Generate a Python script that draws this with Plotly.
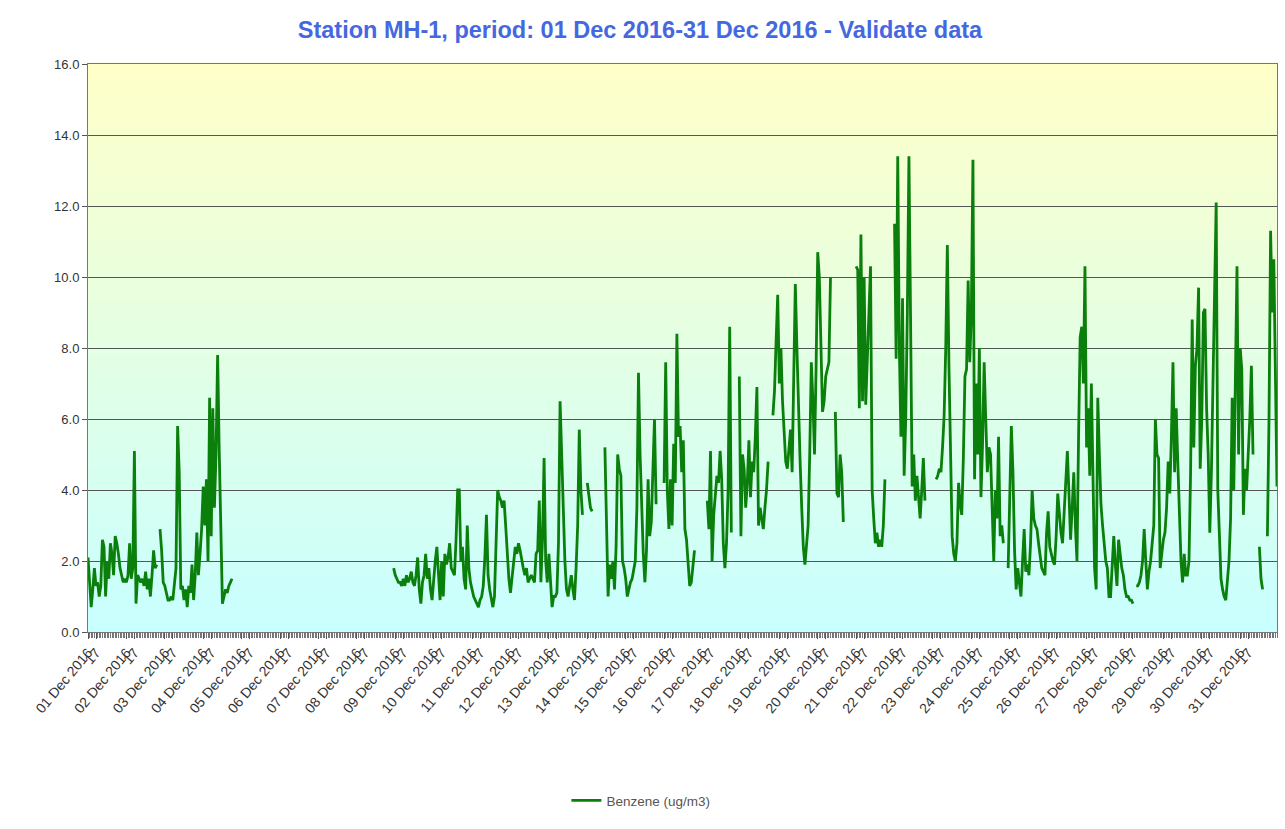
import plotly.graph_objects as go
import pandas as pd

# Hourly Benzene (ug/m3), one list per day (00:00 .. 23:00)
dec01 = [2.1,1.4,0.7,1.2,1.8,1.3,1.4,1.0,1.3,2.6,2.4,1.0,2.0,1.5,2.5,2.2,1.6,2.7,2.5,2.2,1.8,1.6,1.4,1.5]
dec02 = [1.4,1.6,2.5,1.5,1.8,5.1,0.8,1.6,1.5,1.4,1.5,1.3,1.7,1.2,1.5,1.0,1.6,2.3,1.8,1.9,None,2.9,2.3,1.4]
dec03 = [1.3,1.1,0.9,0.9,1.0,0.9,1.3,1.8,5.8,4.5,1.2,1.3,0.9,1.2,0.7,1.3,1.1,1.9,0.9,1.6,2.8,1.6,2.2,2.9]
dec04 = [4.1,3.0,4.3,2.0,6.6,2.7,6.3,3.5,5.0,7.8,5.1,2.5,0.8,1.0,1.2,1.1,1.3,1.4,1.5,None,None,None,None,None]
dec05 = [None]*24
dec06 = [None]*24
dec07 = [None]*24
dec08 = [None]*23 + [1.8]
dec09 = [1.6,1.5,1.4,1.4,1.3,1.5,1.3,1.6,1.4,1.5,1.7,1.4,1.3,1.6,2.1,1.2,0.8,1.4,1.6,2.2,1.5,1.8,1.2,0.9]
dec10 = [1.5,2.0,2.4,1.6,0.9,2.0,1.0,2.2,1.9,2.1,2.5,1.8,1.7,1.6,2.6,4.0,4.0,2.0,2.4,1.5,1.2,3.0,1.8,1.4]
dec11 = [1.2,1.0,0.9,0.8,0.7,0.9,1.0,1.3,2.1,3.3,1.6,1.2,0.9,0.7,1.0,2.5,4.0,3.8,3.7,3.5,3.7,3.0,2.2,1.5]
dec12 = [1.1,1.6,1.9,2.4,2.2,2.5,2.3,2.0,1.8,1.6,1.8,1.4,1.5,1.6,1.5,1.4,2.2,2.3,3.7,1.4,2.6,4.9,2.0,1.4]
dec13 = [2.2,1.5,0.7,1.0,1.0,1.1,2.5,6.5,5.0,3.2,2.0,1.2,1.0,1.3,1.6,1.2,0.9,1.8,3.0,5.7,4.0,3.3,None,None]
dec14 = [4.2,3.8,3.5,3.4,None,None,None,None,None,None,None,5.2,2.6,1.0,1.9,1.5,2.0,1.2,2.4,5.0,4.6,4.4,2.0,1.8]
dec15 = [1.5,1.0,1.2,1.4,1.5,1.8,2.0,3.5,7.3,5.0,3.5,2.2,1.4,2.3,4.3,2.7,3.1,4.5,6.0,3.6,None,None,None,None]
dec16 = [4.2,7.6,4.0,2.9,4.3,3.0,5.3,4.2,8.4,5.5,5.8,4.5,5.4,2.9,2.6,1.8,1.3,1.4,1.8,2.3,None,None,None,None]
dec17 = [None,None,None,3.7,2.9,5.1,2.0,3.3,3.8,4.4,4.2,5.1,4.3,2.5,1.8,2.5,4.0,8.6,2.8,None,None,None,None,7.2]
dec18 = [2.7,5.0,4.6,3.5,4.2,5.4,3.8,4.8,4.5,5.5,6.9,3.0,3.5,3.2,2.9,3.5,4.0,4.8,None,None,6.1,6.8,8.2,9.5]
dec19 = [7.0,8.0,6.5,5.5,4.8,4.6,5.2,5.7,4.5,7.0,9.8,8.0,6.2,4.8,3.5,2.4,1.9,2.5,3.0,5.0,7.6,6.5,5.0,7.5]
dec20 = [10.7,10.0,8.0,6.2,6.5,7.2,7.4,7.6,10.0,None,None,6.2,3.9,3.8,5.0,4.5,3.1,None,None,None,None,None,None,None]
dec21 = [10.3,10.2,6.3,11.2,6.5,10.0,6.4,7.5,9.0,10.3,4.0,3.2,2.5,2.8,2.4,2.6,2.4,3.0,4.3,None,None,None,None,None]
dec22 = [11.5,7.7,13.4,8.0,5.5,9.4,4.4,6.0,9.0,13.4,8.9,4.1,5.0,3.7,4.4,3.8,3.2,4.0,4.9,3.7,None,None,None,None]
dec23 = [None,None,4.3,4.4,4.6,4.5,5.2,6.1,8.0,10.9,7.5,5.0,2.7,2.2,2.0,2.5,4.2,3.6,3.3,4.9,7.2,7.4,9.9,7.6]
dec24 = [9.0,13.3,4.3,7.0,5.0,8.0,3.8,5.3,7.6,6.0,4.5,5.2,5.0,3.5,2.0,4.0,3.2,5.5,2.7,3.0,2.5,None,None,1.8]
dec25 = [3.5,5.8,4.5,2.3,1.2,1.8,1.4,1.0,2.0,2.9,1.7,1.9,1.6,2.5,4.0,3.2,3.0,2.9,2.5,2.2,1.8,1.7,1.6,2.8]
dec26 = [3.4,2.4,2.2,2.0,1.9,2.7,3.9,3.2,2.8,2.5,3.5,4.3,5.1,3.9,2.6,3.5,4.5,3.0,2.0,5.5,8.3,8.6,7.0,10.3]
dec27 = [5.2,6.3,4.4,7.0,3.8,1.8,1.2,6.6,5.0,3.6,3.0,2.5,2.0,1.8,1.0,1.0,1.8,2.7,1.9,1.3,2.6,2.1,1.8,1.6]
dec28 = [1.2,1.0,1.0,0.9,0.9,0.8,None,1.3,1.3,1.4,1.6,2.0,2.9,2.0,1.2,1.7,2.0,2.5,3.0,6.0,5.0,4.9,1.8,2.2]
dec29 = [2.6,2.8,3.5,4.8,3.9,5.5,7.6,4.5,6.3,4.8,3.0,2.0,1.4,2.2,1.6,1.6,2.0,4.5,8.8,5.2,7.5,8.0,9.7,4.6]
dec30 = [6.0,9.0,9.1,6.3,5.0,2.8,4.5,7.0,9.0,12.1,4.0,2.5,1.5,1.2,1.0,0.9,1.5,2.0,3.2,6.6,4.0,7.0,10.3,5.0]
dec31 = [8.0,7.4,3.3,4.6,4.0,5.0,6.0,7.5,5.0,None,None,None,2.4,1.5,1.2,None,None,2.7,6.0,11.3,9.0,10.5,7.0,4.1]

days = [dec01, dec02, dec03, dec04, dec05, dec06, dec07, dec08, dec09, dec10,
        dec11, dec12, dec13, dec14, dec15, dec16, dec17, dec18, dec19, dec20,
        dec21, dec22, dec23, dec24, dec25, dec26, dec27, dec28, dec29, dec30, dec31]

day_labels = [f"{d:02d} Dec 2016" for d in range(1, 32)]
sub_label = "17"
y_ticks = [0, 2, 4, 6, 8, 10, 12, 14, 16]

values = [v for day in days for v in day]
times = pd.date_range("2016-12-01 00:00", periods=len(values), freq="h")
day_starts = pd.date_range("2016-12-01", periods=31, freq="D")
sub_ticks = day_starts + pd.Timedelta(hours=5)

tickvals = []
ticktext = []
for ds, lbl, st in zip(day_starts, day_labels, sub_ticks):
    tickvals += [ds, st]
    ticktext += [lbl, sub_label]

fig = go.Figure()
fig.add_trace(go.Scatter(
    x=times, y=values, mode="lines", name="Benzene (ug/m3)",
    line=dict(color="#0b7f0b", width=2.8), connectgaps=False,
))

# vertical gradient background (yellow at top -> light cyan at bottom)
n = 80
top = (255, 255, 200)
bot = (200, 255, 255)
shapes = []
for k in range(n):
    t = (k + 0.5) / n
    c = tuple(round(bot[j] + (top[j] - bot[j]) * t) for j in range(3))
    shapes.append(dict(type="rect", xref="x domain", yref="y domain",
                       x0=0, x1=1, y0=k / n, y1=(k + 1) / n + 0.002,
                       fillcolor=f"rgb{c}", line=dict(width=0), layer="below"))

fig.update_layout(
    width=1285, height=829,
    margin=dict(l=88, r=8, t=64, b=197),
    paper_bgcolor="white",
    plot_bgcolor="rgba(0,0,0,0)",
    shapes=shapes,
    title=dict(text="<b>Station MH-1, period: 01 Dec 2016-31 Dec 2016 - Validate data</b>",
               font=dict(family="Liberation Sans", size=23.5, color="#4568e0"),
               x=0.498, xref="container", xanchor="center",
               y=1 - 30 / 829, yref="container", yanchor="middle"),
    showlegend=True,
    legend=dict(orientation="h", x=0.465, xanchor="center", y=-0.297, yanchor="middle",
                font=dict(family="Liberation Sans", size=13.5, color="#555")),
    font=dict(family="Liberation Sans", color="#333"),
)

fig.update_xaxes(
    automargin=False,
    range=[times[0], times[-1]],
    tickmode="array",
    tickvals=tickvals,
    ticktext=ticktext,
    tickangle=-50,
    tickfont=dict(family="Liberation Sans", size=14, color="#333"),
    ticks="outside", ticklen=6, tickcolor="#555", tickwidth=1,
    minor=dict(ticks="outside", ticklen=5, tickcolor="#777", dtick=3600000,
               tick0="2016-12-01", showgrid=False),
    showgrid=False,
    showline=True, linecolor="#777", linewidth=1, mirror=True,
    zeroline=False,
)
fig.update_yaxes(
    automargin=False,
    range=[0, 16],
    tickmode="array", tickvals=y_ticks,
    tickformat=".1f",
    tickfont=dict(family="Liberation Sans", size=13, color="#333"),
    ticks="outside", ticklen=5, tickcolor="#555",
    showgrid=True, gridcolor="#555", gridwidth=1,
    showline=True, linecolor="#777", linewidth=1, mirror=True,
    zeroline=False,
)

fig.write_html("out.html", config={"displayModeBar": False},
               post_script="document.body.style.margin='0';document.body.style.overflow='hidden';")
